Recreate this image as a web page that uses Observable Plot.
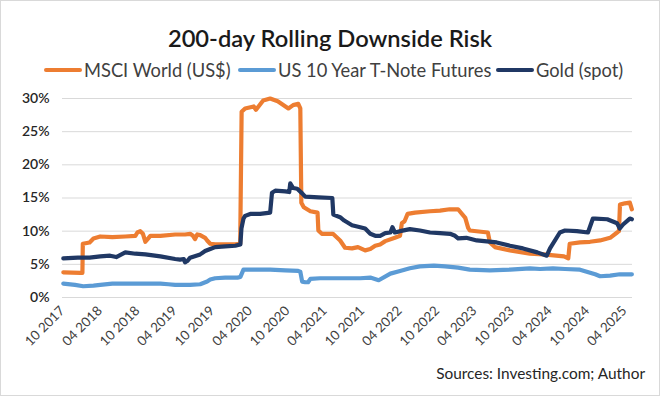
<!DOCTYPE html>
<html><head><meta charset="utf-8">
<script src="https://cdn.jsdelivr.net/npm/d3@7"></script>
<script src="https://cdn.jsdelivr.net/npm/@observablehq/plot@0.6"></script>
<style>
html,body{margin:0;padding:0;background:#fff;}
#chart{position:relative;width:660px;height:396px;font-family:Lato,"Open Sans",sans-serif;overflow:hidden;background:#fff;}
#frame{position:absolute;left:0;top:0;width:660px;height:396px;box-sizing:border-box;border:1px solid #d9d9d9;pointer-events:none;}
#title{position:absolute;left:0;width:660px;top:23px;text-align:center;font-size:23.7px;font-weight:600;color:#1a1a1a;line-height:30px;white-space:nowrap;}
.leg{position:absolute;top:60px;height:20px;display:flex;align-items:center;font-size:18.3px;color:#404040;white-space:nowrap;}
.sw{display:inline-block;width:38px;height:4px;border-radius:2px;margin-right:2px;}
#plot{position:absolute;left:0;top:88px;}
#caption{position:absolute;right:15px;top:364px;font-size:15.4px;color:#262626;white-space:nowrap;}
</style></head>
<body>
<div id="chart">
  <div id="title"></div>
  <div id="legend"></div>
  <div id="plot"></div>
  <div id="caption"></div>
  <div id="frame"></div>
</div>
<script>
const titleText = "200-day Rolling Downside Risk";
const captionText = "Sources: Investing.com; Author";
const seriesNames = ["MSCI World (US$)", "US 10 Year T-Note Futures", "Gold (spot)"];
const seriesColors = ["#ED7D31", "#5B9BD5", "#203864"];
const yTicks = [0, 5, 10, 15, 20, 25, 30];
const xTicks = ["2017-10-01","2018-04-01","2018-10-01","2019-04-01","2019-10-01","2020-04-01","2020-10-01","2021-04-01","2021-10-01","2022-04-01","2022-10-01","2023-04-01","2023-10-01","2024-04-01","2024-10-01","2025-04-01"];

// values in percent
const msci = [
["2017-10-05",3.8],["2017-12-28",3.7],["2018-01-06",3.7],["2018-01-08",8.1],["2018-02-10",8.3],["2018-03-01",8.9],
["2018-04-03",9.2],["2018-06-01",9.1],["2018-08-03",9.2],["2018-09-21",9.3],["2018-10-01",9.8],["2018-10-15",10.0],
["2018-10-28",9.6],["2018-11-09",8.4],["2018-11-25",9.0],["2018-12-03",9.3],["2019-01-21",9.3],["2019-04-03",9.5],
["2019-05-21",9.5],["2019-06-15",9.6],["2019-06-29",9.3],["2019-07-09",8.8],["2019-07-20",9.5],["2019-08-03",9.4],
["2019-08-27",9.0],["2019-09-06",8.6],["2019-09-21",8.1],["2019-10-15",8.0],["2019-12-03",8.0],["2020-01-21",8.0],
["2020-02-14",8.1],["2020-02-21",28.0],["2020-03-09",28.5],["2020-04-20",28.8],["2020-05-01",28.3],["2020-06-05",29.7],
["2020-07-09",30.0],["2020-08-15",29.6],["2020-10-06",28.5],["2020-10-29",29.0],["2020-11-23",29.2],["2020-12-03",28.5],
["2020-12-08",14.3],["2020-12-20",13.6],["2021-01-21",13.0],["2021-02-25",12.8],["2021-03-01",10.1],["2021-03-18",9.6],
["2021-05-11",9.6],["2021-06-15",8.6],["2021-07-09",7.5],["2021-08-12",7.4],["2021-09-10",7.6],["2021-10-15",7.1],
["2021-11-09",7.3],["2021-12-03",7.8],["2021-12-27",8.0],["2022-01-21",8.5],["2022-03-09",9.0],["2022-04-03",9.3],
["2022-04-12",11.2],["2022-04-25",11.5],["2022-05-10",12.6],["2022-06-15",12.8],["2022-08-27",13.0],["2022-10-15",13.1],
["2022-12-01",13.3],["2023-01-11",13.3],["2023-02-15",12.0],["2023-03-01",10.5],["2023-03-09",10.1],["2023-06-05",9.8],
["2023-06-15",8.3],["2023-07-09",7.6],["2023-09-21",7.1],["2023-12-27",6.6],["2024-03-01",6.5],["2024-06-10",6.2],
["2024-07-01",5.9],["2024-07-08",8.1],["2024-08-27",8.3],["2024-10-15",8.4],["2024-12-03",8.6],["2025-01-21",9.0],
["2025-02-24",9.8],["2025-03-05",10.0],["2025-03-10",14.0],["2025-04-03",14.2],["2025-04-27",14.3],["2025-05-07",13.3]
];
const tnote = [
["2017-10-05",2.1],["2017-12-01",1.9],["2018-01-10",1.7],["2018-03-01",1.8],["2018-04-03",1.9],["2018-06-01",2.1],
["2018-10-15",2.1],["2019-01-21",2.1],["2019-03-01",2.0],["2019-04-03",1.9],["2019-06-15",1.9],["2019-08-03",2.0],
["2019-09-06",2.4],["2019-09-21",2.7],["2019-10-15",2.9],["2019-12-03",3.0],["2020-02-01",3.0],["2020-02-15",3.1],
["2020-03-01",4.2],["2020-04-03",4.2],["2020-07-09",4.2],["2020-09-21",4.1],["2020-11-23",4.0],["2020-12-03",3.9],
["2020-12-12",2.4],["2020-12-27",2.3],["2021-01-10",2.3],["2021-01-21",2.8],["2021-03-09",2.9],["2021-06-15",2.9],
["2021-09-21",2.9],["2021-11-09",3.0],["2021-12-20",2.6],["2022-02-15",3.6],["2022-04-03",4.0],["2022-05-21",4.4],
["2022-07-09",4.7],["2022-09-15",4.8],["2022-11-09",4.7],["2023-01-11",4.5],["2023-03-09",4.2],["2023-06-15",4.1],
["2023-09-21",4.2],["2023-12-27",4.4],["2024-02-15",4.3],["2024-04-17",4.4],["2024-06-15",4.3],["2024-08-27",4.2],
["2024-11-09",3.5],["2024-12-03",3.2],["2025-01-21",3.3],["2025-03-09",3.5],["2025-05-07",3.5]
];
const gold = [
["2017-10-05",5.9],["2017-12-15",6.0],["2018-02-10",6.0],["2018-04-03",6.2],["2018-05-21",6.3],["2018-06-20",6.1],
["2018-08-03",6.8],["2018-09-21",6.6],["2018-11-09",6.5],["2019-01-21",6.2],["2019-04-03",5.8],["2019-04-27",5.7],
["2019-05-15",5.8],["2019-05-21",5.3],["2019-06-01",5.5],["2019-06-15",6.0],["2019-08-03",6.5],["2019-08-27",7.0],
["2019-09-21",7.3],["2019-10-15",7.6],["2019-12-03",7.7],["2020-01-21",7.8],["2020-02-15",8.0],["2020-02-20",10.4],
["2020-03-01",11.9],["2020-03-09",12.3],["2020-04-03",12.6],["2020-05-21",12.6],["2020-07-09",12.8],["2020-07-18",15.8],
["2020-08-03",16.1],["2020-09-21",16.0],["2020-10-10",15.9],["2020-10-15",17.2],["2020-10-29",16.5],["2020-11-18",16.4],
["2020-12-12",15.7],["2020-12-27",15.2],["2021-03-01",15.1],["2021-05-08",15.0],["2021-05-13",12.5],["2021-06-15",12.1],
["2021-07-05",11.6],["2021-08-12",10.9],["2021-09-21",10.6],["2021-10-15",10.4],["2021-11-09",9.6],["2021-12-03",9.3],
["2021-12-27",9.3],["2022-01-21",9.7],["2022-02-15",9.8],["2022-02-25",10.6],["2022-03-09",9.8],["2022-04-03",10.0],
["2022-05-21",10.3],["2022-07-09",10.1],["2022-08-27",9.8],["2022-10-15",9.7],["2022-12-03",9.6],["2022-12-27",9.3],
["2023-01-11",8.9],["2023-02-20",9.0],["2023-04-12",8.6],["2023-07-18",8.3],["2023-09-21",7.8],["2023-11-23",7.4],
["2024-02-01",6.8],["2024-03-18",6.3],["2024-04-03",7.4],["2024-05-21",9.8],["2024-06-15",10.1],["2024-08-12",10.0],
["2024-10-05",9.8],["2024-10-29",11.9],["2024-11-09",11.9],["2025-01-07",11.8],["2025-02-24",11.2],["2025-03-09",10.4],
["2025-03-25",11.0],["2025-04-27",11.9],["2025-05-07",11.8]
];
const xDomain = ["2017-10-01","2025-05-10"];

document.getElementById("title").textContent = titleText;
document.getElementById("caption").textContent = captionText;
const legendLeft = [44, 238, 496];
const leg = document.getElementById("legend");
seriesNames.forEach((n, i) => {
  const d = document.createElement("div");
  d.className = "leg";
  d.style.left = legendLeft[i] + "px";
  const s = document.createElement("span");
  s.className = "sw"; s.style.background = seriesColors[i];
  d.appendChild(s);
  d.appendChild(document.createTextNode(n));
  leg.appendChild(d);
});

const parse = d3.utcParse("%Y-%m-%d");
const toRows = (arr, name) => arr.map(([d, v]) => ({date: parse(d), value: v, series: name}));
const rows = [
  ...toRows(msci, seriesNames[0]),
  ...toRows(tnote, seriesNames[1]),
  ...toRows(gold, seriesNames[2])
];

const chart = Plot.plot({
  width: 660,
  height: 260,
  marginLeft: 62,
  marginRight: 28,
  marginTop: 10,
  marginBottom: 51,
  style: {fontFamily: "Lato, 'Open Sans', sans-serif", background: "transparent"},
  x: {type: "utc", domain: xDomain.map(parse), label: null},
  y: {domain: [0, 30], label: null},
  color: {domain: seriesNames, range: seriesColors},
  marks: [
    Plot.gridY(yTicks, {stroke: "#d9d9d9", strokeOpacity: 1, strokeWidth: 1}),
    Plot.axisX({ticks: xTicks.map(parse), tickFormat: d3.utcFormat("%m %Y"), tickRotate: -45, tickSize: 0, tickPadding: 11, fontSize: 13.3, fill: "#404040", label: null}),
    Plot.axisY({ticks: yTicks, tickFormat: d => d + "%", tickSize: 0, tickPadding: 13, fontSize: 14, fontWeight: 600, fill: "#262626", label: null}),
    Plot.line(rows, {x: "date", y: "value", z: "series", stroke: "series", strokeWidth: 4.2, strokeLinejoin: "round"})
  ]
});
document.getElementById("plot").appendChild(chart);
</script>
</body></html>
